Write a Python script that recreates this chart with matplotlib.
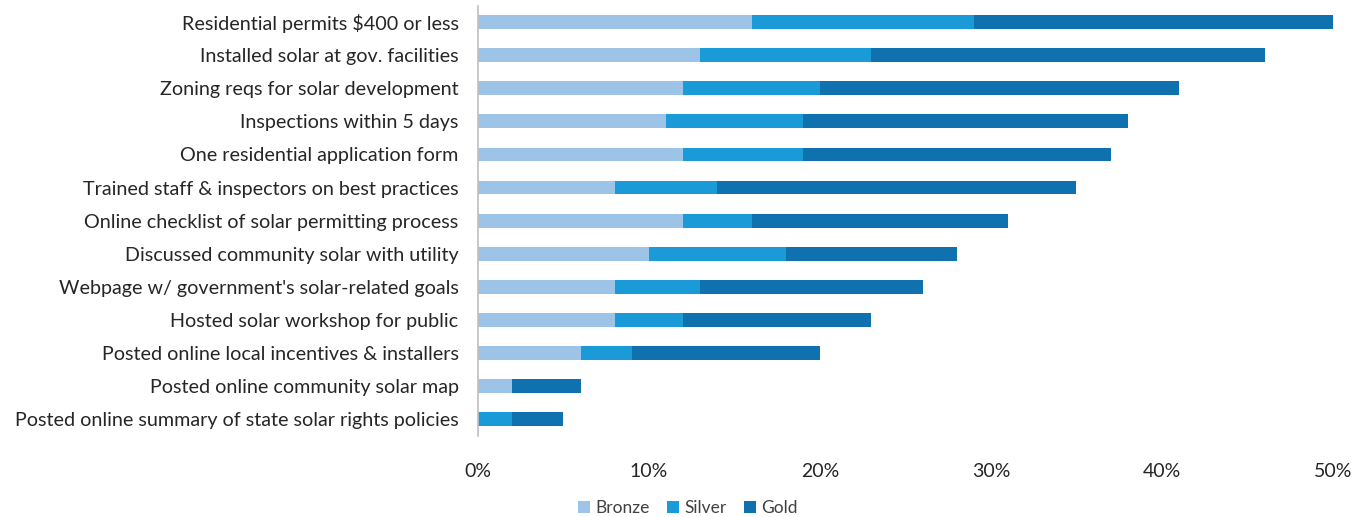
import numpy as np
import matplotlib
matplotlib.use('Agg')
import matplotlib.pyplot as plt
from matplotlib.ticker import FuncFormatter

plt.rcParams['font.family'] = ['Lato', 'DejaVu Sans']

# ── Data: share of communities at each designation level (%) ─────────────────
actions = [
    "Residential permits $400 or less",
    "Installed solar at gov. facilities",
    "Zoning reqs for solar development",
    "Inspections within 5 days",
    "One residential application form",
    "Trained staff & inspectors on best practices",
    "Online checklist of solar permitting process",
    "Discussed community solar with utility",
    "Webpage w/ government's solar-related goals",
    "Hosted solar workshop for public",
    "Posted online local incentives & installers",
    "Posted online community solar map",
    "Posted online summary of state solar rights policies",
]
bronze = [16, 13, 12, 11, 12, 8, 12, 10, 8, 8, 6, 2, 0]
silver = [13, 10, 8, 8, 7, 6, 4, 8, 5, 4, 3, 0, 2]
gold   = [21, 23, 21, 19, 18, 21, 15, 10, 13, 11, 11, 4, 3]

colors = {'Bronze': '#9dc3e6', 'Silver': '#1a9ad6', 'Gold': '#0f72ae'}

fig = plt.figure(figsize=(13.68, 5.17), dpi=100)
ax = fig.add_axes([0.3494, 0.1576, 0.6250, 0.8314])

y = np.arange(len(actions))
left = np.zeros(len(actions))
for name, vals in [('Bronze', bronze), ('Silver', silver), ('Gold', gold)]:
    ax.barh(y, vals, left=left, height=0.42, color=colors[name], label=name)
    left += np.array(vals)

ax.set_ylim(len(actions) - 0.5, -0.5)
ax.set_xlim(0, 50)
ax.set_yticks(y)
ax.set_yticklabels(actions, fontsize=14.2, color='#262626')
ax.set_xticks(np.arange(0, 51, 10))
ax.xaxis.set_major_formatter(FuncFormatter(lambda v, _: f'{v:.0f}%'))
ax.tick_params(axis='x', length=0, pad=20, labelsize=14, labelcolor='#262626')
ax.tick_params(axis='y', length=0, pad=14)

for s in ['top', 'right', 'bottom']:
    ax.spines[s].set_visible(False)
ax.spines['left'].set_color('#bfbfbf')
ax.spines['left'].set_linewidth(1.2)

fig.legend(loc='center', bbox_to_anchor=(0.503, 0.018), ncol=3, frameon=False,
           fontsize=12.5, handlelength=0.7, handleheight=0.7, handletextpad=0.3,
           columnspacing=1.0, labelcolor='#404040')

fig.savefig('out.png', dpi=100)
